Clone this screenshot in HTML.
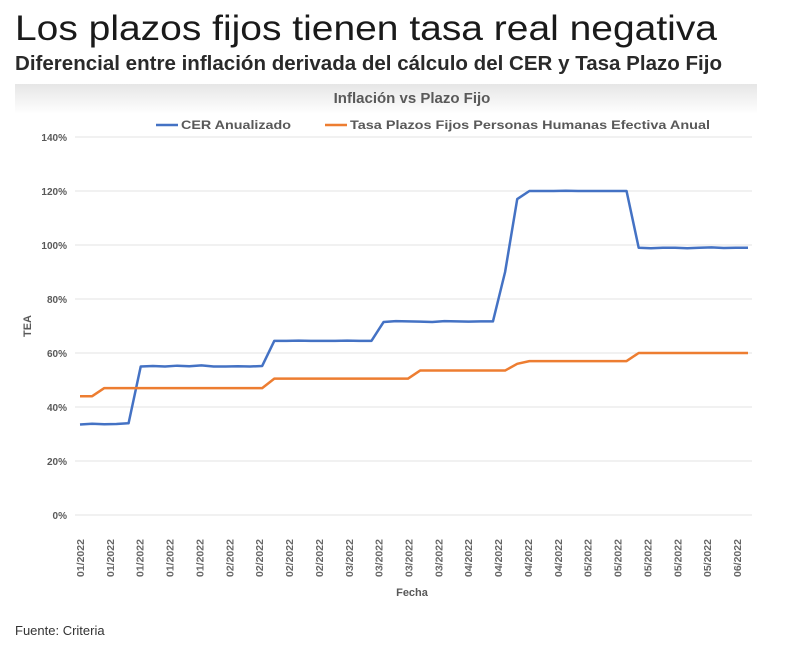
<!DOCTYPE html>
<html><head><meta charset="utf-8"><style>body{margin:0;background:#fff}svg{display:block}</style></head>
<body>
<svg id="c" width="800" height="646" viewBox="0 0 800 646" font-family="Liberation Sans, sans-serif">
<defs><linearGradient id="hg" x1="0" y1="0" x2="0" y2="1"><stop offset="0" stop-color="#e6e6e6"/><stop offset="1" stop-color="#fff"/></linearGradient></defs>
<text x="15" y="40" font-size="35" fill="#1a1a1a" textLength="702" lengthAdjust="spacingAndGlyphs">Los plazos fijos tienen tasa real negativa</text>
<text x="15" y="70" font-size="20" font-weight="bold" fill="#2a2a2a" textLength="707" lengthAdjust="spacingAndGlyphs">Diferencial entre inflación derivada del cálculo del CER y Tasa Plazo Fijo</text>
<rect x="15" y="84" width="742" height="30" fill="url(#hg)"/>
<text x="412" y="103" font-size="15" font-weight="bold" fill="#595959" text-anchor="middle">Inflación vs Plazo Fijo</text>
<g font-size="12" font-weight="bold" fill="#595959">
<line x1="156" y1="125" x2="178" y2="125" stroke="#4472c4" stroke-width="2.5"/>
<text x="181" y="129" textLength="110" lengthAdjust="spacingAndGlyphs">CER Anualizado</text>
<line x1="325" y1="125" x2="347" y2="125" stroke="#ed7d31" stroke-width="2.5"/>
<text x="350" y="129" textLength="360" lengthAdjust="spacingAndGlyphs">Tasa Plazos Fijos Personas Humanas Efectiva Anual</text>
</g>
<g id="grid"></g><g id="xl"></g><g id="lines"></g>
<text transform="translate(31,326) rotate(-90)" font-size="11" font-weight="bold" fill="#595959" text-anchor="middle">TEA</text>
<text x="412" y="596" font-size="11" font-weight="bold" fill="#595959" text-anchor="middle">Fecha</text>
<text x="15" y="635" font-size="13" fill="#333">Fuente: Criteria</text>
</svg>
<script>
const yTicks=[0,20,40,60,80,100,120,140];
const xLabels=["01/2022","01/2022","01/2022","01/2022","01/2022","02/2022","02/2022","02/2022","02/2022","03/2022","03/2022","03/2022","03/2022","04/2022","04/2022","04/2022","04/2022","05/2022","05/2022","05/2022","05/2022","05/2022","06/2022"];
const cer=[33.5,33.8,33.6,33.7,34,55,55.2,55,55.3,55.1,55.4,55,55,55.1,55,55.2,64.5,64.5,64.6,64.5,64.5,64.5,64.6,64.5,64.5,71.5,71.8,71.7,71.6,71.5,71.8,71.7,71.6,71.7,71.7,90,117,120,120,120,120.1,120,120,120,120,120,99,98.8,99,99,98.8,99,99.1,98.9,99,99];
const pf=[44,44,47,47,47,47,47,47,47,47,47,47,47,47,47,47,50.5,50.5,50.5,50.5,50.5,50.5,50.5,50.5,50.5,50.5,50.5,50.5,53.5,53.5,53.5,53.5,53.5,53.5,53.5,53.5,56,57,57,57,57,57,57,57,57,57,60,60,60,60,60,60,60,60,60,60];
const NS="http://www.w3.org/2000/svg";
const x0=80,x1=748,yb=515,yt=137;
const y=v=>yb-(v/140)*(yb-yt);
const x=i=>x0+i*(x1-x0)/(cer.length-1);
function mk(t,a,p){const e=document.createElementNS(NS,t);for(const k in a)e.setAttribute(k,a[k]);p.appendChild(e);return e;}
const g=document.getElementById('grid');
yTicks.forEach(v=>{
 const l=mk('line',{x1:75,x2:752,y1:y(v),y2:y(v),stroke:'#e3e3e3','stroke-width':1},g);
 
 
 const t=mk('text',{x:67,y:y(v)+4,'font-size':10,'font-weight':'bold',fill:'#595959','text-anchor':'end'},g);
 t.textContent=v+'%';
 
 
});
const xl=document.getElementById('xl');
xLabels.forEach((s,i)=>{
 const xx=80+i*(737-80)/(xLabels.length-1);
 const t=mk('text',{transform:`translate(${xx+4},577) rotate(-90)`,'font-size':10.5,'font-weight':'bold',fill:'#666'},xl);
 t.textContent=s;
 
 
});
const L=document.getElementById('lines');
[[cer,'#4472c4','cer-line'],[pf,'#ed7d31','plazo-fijo-line']].forEach(([d,c,n])=>{
 const p=mk('polyline',{points:d.map((v,i)=>x(i)+','+y(v)).join(' '),fill:'none',stroke:c,'stroke-width':2.5,'stroke-linejoin':'round'},L);
 
 
});
</script>
</body></html>
